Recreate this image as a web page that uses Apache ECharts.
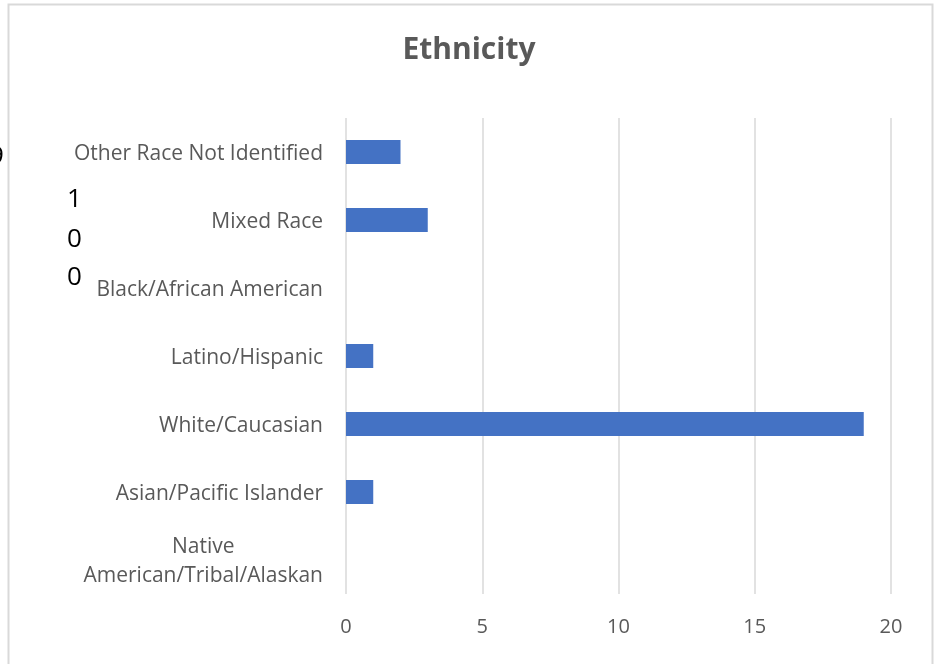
<!DOCTYPE html>
<html><head><meta charset="utf-8">
<script src="https://cdn.jsdelivr.net/npm/echarts@6/dist/echarts.min.js"></script>
<style>html,body{margin:0;padding:0;background:#fff}#c{width:938px;height:664px}</style>
</head><body><div id="c"></div>
<script>
const categories = ['Native American/Tribal/Alaskan','Asian/Pacific Islander','White/Caucasian','Latino/Hispanic','Black/African American','Mixed Race','Other Race Not Identified'];
const values = [0, 1, 19, 1, 0, 3, 2];
const xTicks = [0, 5, 10, 15, 20];
const titleText = 'Ethnicity';
const strayChars = ['1', '0', '0'];

const chart = echarts.init(document.getElementById('c'));
const font = 'Open Sans';
const lab = { fontFamily: font, fontSize: 21, color: '#595959' };
chart.setOption({
  animation: false,
  title: { text: titleText, left: 'center', top: 30, textStyle: { fontFamily: font, fontSize: 30, fontWeight: 'bold', color: '#595959' } },
  grid: { left: 346, right: 47, top: 118, bottom: 70, containLabel: false },
  xAxis: { type: 'value', min: xTicks[0], max: xTicks[xTicks.length-1], interval: 5,
    axisLine: { show: false }, axisTick: { show: false },
    splitLine: { lineStyle: { color: '#d9d9d9', width: 1.5 } },
    axisLabel: { fontFamily: font, fontSize: 20, color: '#595959', margin: 23 } },
  yAxis: { type: 'category', data: categories,
    axisLine: { show: false }, axisTick: { show: false },
    axisLabel: { fontFamily: font, fontSize: 21, color: '#595959', margin: 23, padding: [4, 0, 0, 0],
      formatter: function (v) {
        if (v.indexOf('Native') === 0) return '{c|Native}\n{c|American/Tribal/Alaskan}';
        return '{r|' + v + '}';
      },
      rich: { c: Object.assign({ align: 'center', lineHeight: 29 }, lab), r: lab } } },
  series: [{ type: 'bar', data: values, barWidth: 24, itemStyle: { color: '#4472c4' } }],
  graphic: [
    { type: 'rect', shape: { x: 8.5, y: 4.5, width: 924, height: 700 }, style: { fill: 'none', stroke: '#d9d9d9', lineWidth: 2 }, silent: true },
    { type: 'text', x: -11, y: 157, style: { text: '9', font: '26px "Open Sans"', fill: '#000', verticalAlign: 'middle' } },
    { type: 'text', x: 67, y: 200, style: { text: strayChars[0], font: '26px "Open Sans"', fill: '#000', verticalAlign: 'middle' } },
    { type: 'text', x: 67, y: 240, style: { text: strayChars[1], font: '26px "Open Sans"', fill: '#000', verticalAlign: 'middle' } },
    { type: 'text', x: 67, y: 278, style: { text: strayChars[2], font: '26px "Open Sans"', fill: '#000', verticalAlign: 'middle' } }
  ]
});
</script></body></html>
